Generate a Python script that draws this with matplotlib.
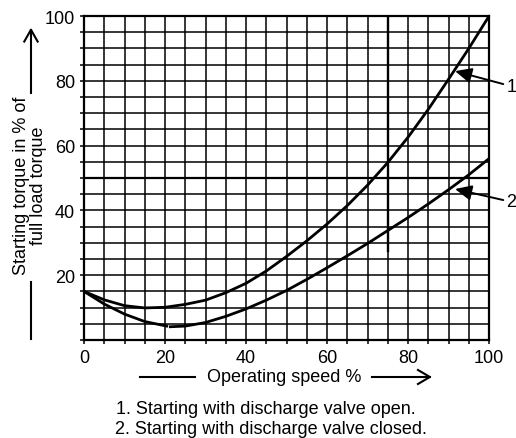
import matplotlib
matplotlib.use("Agg")
import matplotlib.pyplot as plt

plt.rcParams['font.family'] = ['Liberation Sans', 'DejaVu Sans']

# curve 1: discharge valve open
speed_open = [0, 5, 10, 15, 20, 25, 30, 35, 40, 45, 50, 55, 60, 65, 70, 75, 80, 85, 90, 95, 100]
torque_open = [15, 12.4, 10.6, 9.9, 10.1, 11.0, 12.3, 14.6, 17.5, 21.3, 25.8, 30.6, 35.8, 41.5, 47.8,
               54.8, 62.6, 71.2, 80.5, 90, 100]

# curve 2: discharge valve closed (drawn in two pieces, small gap near 21 %)
speed_closed_a = [0, 5, 10, 15, 20.4]
torque_closed_a = [15, 11.1, 8.0, 5.7, 4.3]
speed_closed_b = [21.3, 25, 30, 35, 40, 45, 50, 55, 60, 65, 70, 75, 80, 85, 90, 95, 100]
torque_closed_b = [4.1, 4.3, 5.4, 7.3, 9.6, 12.3, 15.3, 18.7, 22.3, 26.0, 29.8, 33.8, 37.8, 42.0,
                   46.4, 51.0, 56]

x_ticks = [0, 20, 40, 60, 80, 100]
y_ticks = [20, 40, 60, 80, 100]
grid_steps = list(range(0, 101, 5))

fig = plt.figure(figsize=(5.16, 4.39), dpi=100)
ax = fig.add_axes([0.1628, 0.2232, 0.785, 0.738])

# graph paper grid
for v in grid_steps:
    ax.axvline(v, color='black', lw=1.1, zorder=1)
    ax.axhline(v, color='black', lw=1.6 if v == 50 else 1.1, zorder=1)
ax.axvline(75, ymin=0.276, ymax=1, color='black', lw=1.7, zorder=1)

ax.plot(speed_open, torque_open, color='black', lw=2.0, zorder=3)
ax.plot(speed_closed_a, torque_closed_a, color='black', lw=2.0, zorder=3)
ax.plot(speed_closed_b, torque_closed_b, color='black', lw=2.0, zorder=3)

ax.set_xlim(0, 100)
ax.set_ylim(0, 100)
ax.set_xticks(grid_steps, minor=True)
ax.set_yticks(grid_steps, minor=True)
ax.set_xticks(x_ticks)
ax.set_yticks(y_ticks)
ax.tick_params(which='both', direction='out', length=3, width=1.1, labelsize=13, pad=3.5)
for s in ax.spines.values():
    s.set_linewidth(1.6)

# callouts
arrow_kw = dict(arrowstyle='-|>,head_length=0.5,head_width=0.23', color='black', lw=1.4,
                mutation_scale=20, shrinkA=0, shrinkB=0)
ax.annotate('', xy=(91.6, 83), xytext=(103.5, 79), arrowprops=arrow_kw, annotation_clip=False)
ax.text(105.5, 78.1, '1', fontsize=13, ha='center', va='center', clip_on=False)
ax.annotate('', xy=(91.6, 46.6), xytext=(103.5, 43.2), arrowprops=arrow_kw, annotation_clip=False)
ax.text(105.5, 42.6, '2', fontsize=13, ha='center', va='center', clip_on=False)

# y label with arrow
fig.text(0.058, 0.576, 'Starting torque in % of\nfull load torque', rotation=90,
         ha='center', va='center', fontsize=13, linespacing=1.0)
fig.add_artist(plt.Line2D([0.06, 0.06], [0.225, 0.355], color='black', lw=1.5))
fig.add_artist(plt.Line2D([0.06, 0.06], [0.785, 0.93], color='black', lw=1.5))
fig.add_artist(plt.Line2D([0.047, 0.06, 0.073], [0.903, 0.93, 0.903], color='black', lw=1.5))

# x label with arrow
fig.text(0.551, 0.139, 'Operating speed %', ha='center', va='center', fontsize=13)
fig.add_artist(plt.Line2D([0.271, 0.378], [0.139, 0.139], color='black', lw=1.5))
fig.add_artist(plt.Line2D([0.721, 0.833], [0.139, 0.139], color='black', lw=1.5))
fig.add_artist(plt.Line2D([0.81, 0.833, 0.81], [0.155, 0.139, 0.123], color='black', lw=1.5))

fig.text(0.225, 0.068, '1. Starting with discharge valve open.', ha='left', va='center', fontsize=13)
fig.text(0.222, 0.022, '2. Starting with discharge valve closed.', ha='left', va='center', fontsize=13)

fig.savefig('out.png', dpi=100)
